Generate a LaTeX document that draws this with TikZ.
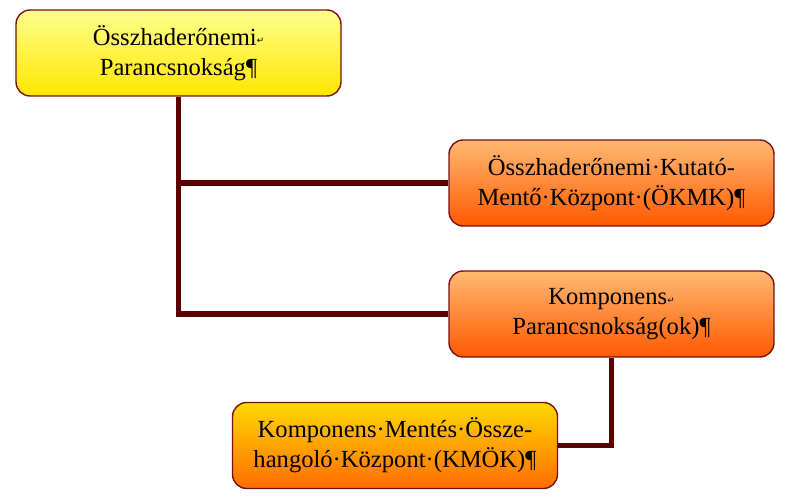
\documentclass[tikz,border=0pt]{standalone}
\usepackage{fontspec}
\setmainfont{Liberation Serif}
\newfontfamily\symfont{DejaVu Sans}
\usetikzlibrary{positioning}
\definecolor{boxline}{HTML}{7A1010}
\definecolor{linkred}{HTML}{5A0000}
\newcommand{\retmark}{{\symfont\tiny\raisebox{0.3ex}{↵}}}
\begin{document}
\begin{tikzpicture}[x=0.02cm,y=-0.02cm,
    unit/.style={rectangle, rounded corners=8pt, minimum width=6.5cm, minimum height=1.72cm, text centered, align=center, draw=boxline, thick, font=\fontsize{14}{17}\selectfont},
    hq/.style={unit, top color=yellow!45, bottom color=yellow!80!orange},
    sub/.style={unit, top color=orange!55, bottom color=orange!70!red},
    cell/.style={unit, top color=yellow!70!orange, bottom color=orange!85!red},
    link/.style={linkred, line width=3pt}
]
\useasboundingbox (0,0) rectangle (791,503);

% Command chain
\node[hq] (hq) at (178.5,53) {Összhaderőnemi\retmark\\Parancsnokság¶};
\node[sub] (okmk) at (611.5,183) {Összhaderőnemi·Kutató-\\Mentő·Központ·(ÖKMK)¶};
\node[sub] (comp) at (611.5,314) {Komponens\retmark\\Parancsnokság(ok)¶};
\node[cell] (kmok) at (395,445.5) {Komponens·Mentés·Össze-\\hangoló·Központ·(KMÖK)¶};

% Connectors
\draw[link] (hq.south) |- (okmk.west);
\draw[link] (hq.south) |- (comp.west);
\draw[link] (comp.south) |- (kmok.east);
\end{tikzpicture}
\end{document}
